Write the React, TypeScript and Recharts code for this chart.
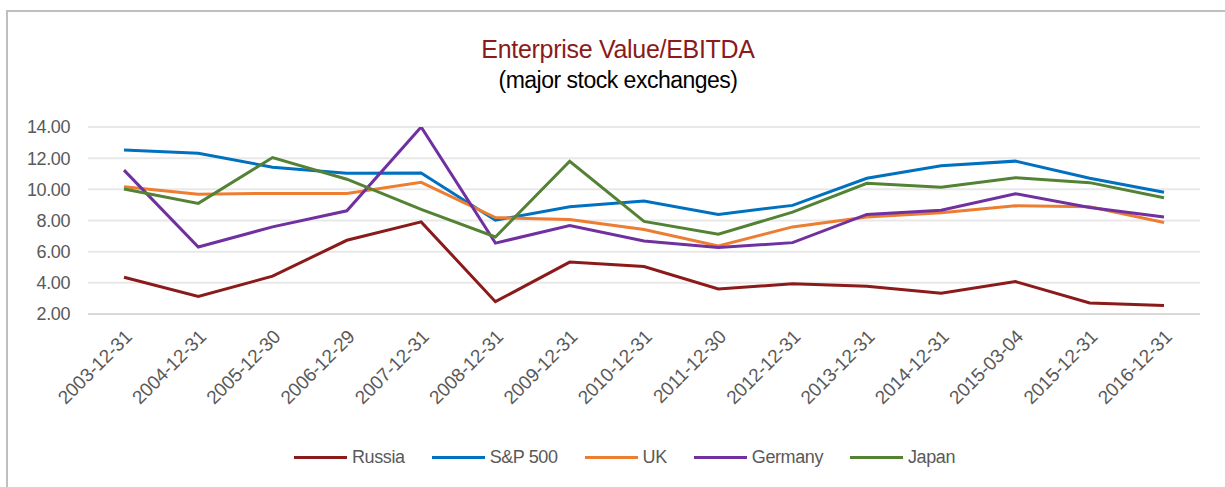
import { CartesianGrid, Line, LineChart, XAxis, YAxis } from "recharts";

const dates = [
  "2003-12-31", "2004-12-31", "2005-12-30", "2006-12-29", "2007-12-31",
  "2008-12-31", "2009-12-31", "2010-12-31", "2011-12-30", "2012-12-31",
  "2013-12-31", "2014-12-31", "2015-03-04", "2015-12-31", "2016-12-31",
];

const russia = [4.36, 3.12, 4.43, 6.73, 7.91, 2.79, 5.33, 5.05, 3.61, 3.94, 3.78, 3.33, 4.08, 2.71, 2.54];
const sp500 = [12.52, 12.32, 11.42, 11.03, 11.05, 8.02, 8.88, 9.25, 8.39, 8.97, 10.71, 11.52, 11.81, 10.71, 9.81];
const uk = [10.17, 9.68, 9.74, 9.74, 10.45, 8.19, 8.06, 7.42, 6.36, 7.59, 8.23, 8.49, 8.94, 8.88, 7.87];
const germany = [11.23, 6.3, 7.59, 8.62, 14.0, 6.55, 7.68, 6.68, 6.26, 6.58, 8.39, 8.66, 9.72, 8.84, 8.23];
const japan = [10.02, 9.1, 12.04, 10.65, 8.71, 6.94, 11.8, 7.94, 7.12, 8.54, 10.39, 10.13, 10.75, 10.43, 9.46];

const yTicks = [2, 4, 6, 8, 10, 12, 14];

const series = [
  { key: "russia", name: "Russia", color: "#8B1A1A", values: russia },
  { key: "sp500", name: "S&P 500", color: "#0070C0", values: sp500 },
  { key: "uk", name: "UK", color: "#ED7D31", values: uk },
  { key: "germany", name: "Germany", color: "#7030A0", values: germany },
  { key: "japan", name: "Japan", color: "#548235", values: japan },
];

const data = dates.map((date, i) => {
  const row: Record<string, string | number> = { date };
  series.forEach((s) => {
    row[s.key] = s.values[i];
  });
  return row;
});

const font = '"Liberation Sans", Arial, sans-serif';
const textGrey = "#595959";

const DateTick = (props: any) => {
  const { x, y, payload } = props;
  return (
    <g transform={`translate(${x + 9},${y + 16})`}>
      <text
        x={0}
        y={0}
        textAnchor="end"
        transform="rotate(-45)"
        fill={textGrey}
        fontSize={19}
        letterSpacing={-0.2}
        fontFamily={font}
      >
        {payload.value}
      </text>
    </g>
  );
};

export default function App() {
  return (
    <div
      style={{
        position: "absolute",
        left: 0,
        top: 0,
        width: 1225,
        height: 487,
        overflow: "hidden",
        background: "#fff",
        fontFamily: font,
      }}
    >
      <div
        style={{
          position: "absolute",
          left: 0,
          top: 35,
          width: 1236,
          textAlign: "center",
          fontSize: 25,
          letterSpacing: -0.3,
          lineHeight: "28px",
          color: "#8B1A1A",
        }}
      >
        Enterprise Value/EBITDA
      </div>
      <div
        style={{
          position: "absolute",
          left: 0,
          top: 66,
          width: 1236,
          textAlign: "center",
          fontSize: 23,
          letterSpacing: -0.5,
          lineHeight: "28px",
          color: "#000",
        }}
      >
        (major stock exchanges)
      </div>
      <div style={{ position: "absolute", left: 0, top: 0 }}>
        <LineChart
          width={1225}
          height={487}
          data={data}
          margin={{ top: 127, right: 25, bottom: 13, left: 8 }}
        >
          <CartesianGrid vertical={false} stroke="#E8E8E8" strokeWidth={2} />
          <XAxis
            dataKey="date"
            interval={0}
            height={160}
            padding={{ left: 36, right: 36 }}
            tickLine={false}
            axisLine={{ stroke: "#D9D9D9", strokeWidth: 2 }}
            tick={<DateTick />}
          />
          <YAxis
            width={80}
            domain={[2, 14]}
            ticks={yTicks}
            allowDataOverflow
            axisLine={false}
            tickLine={false}
            tickMargin={12}
            tickFormatter={(v: number) => v.toFixed(2)}
            tick={{ fill: textGrey, fontSize: 18, letterSpacing: -0.4, fontFamily: font }}
          />
          {series.map((s) => (
            <Line
              key={s.key}
              dataKey={s.key}
              name={s.name}
              type="linear"
              stroke={s.color}
              strokeWidth={3}
              dot={false}
              activeDot={false}
              isAnimationActive={false}
            />
          ))}
        </LineChart>
      </div>
      <div
        style={{
          position: "absolute",
          left: 294,
          top: 446,
          display: "flex",
          alignItems: "center",
          fontSize: 18,
          letterSpacing: -0.4,
          lineHeight: "22px",
          color: textGrey,
        }}
      >
        {series.map((s) => (
          <div key={s.key} style={{ display: "flex", alignItems: "center", marginRight: 27 }}>
            <div style={{ width: 53, height: 3, background: s.color, marginRight: 5 }} />
            <span>{s.name}</span>
          </div>
        ))}
      </div>
      <div
        style={{
          position: "absolute",
          left: 6,
          top: 10,
          width: 1260,
          height: 520,
          border: "2px solid #BFBFBF",
          boxSizing: "border-box",
          pointerEvents: "none",
        }}
      />
    </div>
  );
}
